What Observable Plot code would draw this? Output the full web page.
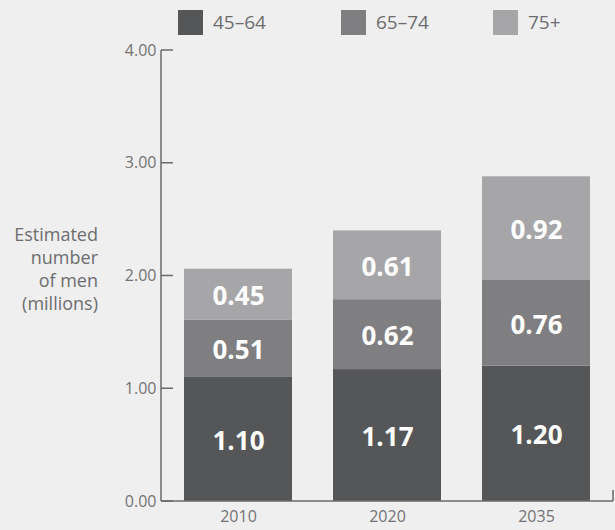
<!DOCTYPE html>
<html>
<head>
<meta charset="utf-8">
<script src="https://cdn.jsdelivr.net/npm/d3@7"></script>
<script src="https://cdn.jsdelivr.net/npm/@observablehq/plot@0.6"></script>
<style>
  html, body { margin: 0; padding: 0; background: #efefef; }
  body { width: 615px; height: 530px; position: relative; overflow: hidden; font-family: "Open Sans", "Noto Sans", sans-serif; }
  #legend { position: relative; height: 40px; }
  .sw { position: absolute; top: 10px; width: 25px; height: 25px; }
  .lt { position: absolute; top: 7px; font-size: 19px; color: #6d6d6f; line-height: 30px; }
  #ylabel { position: absolute; right: 517px; top: 223px; text-align: right; font-size: 18px; line-height: 23px; color: #6d6d6f; }
</style>
</head>
<body>
<div id="legend"></div>
<div id="chart"></div>
<div id="ylabel">Estimated<br>number<br>of men<br>(millions)</div>
<script>
const years = ["2010", "2020", "2035"];
const groups = ["45–64", "65–74", "75+"];
const colors = ["#555658", "#7f7f82", "#a6a6a9"];
const v4564 = [1.10, 1.17, 1.20];
const v6574 = [0.51, 0.62, 0.76];
const v75 = [0.45, 0.61, 0.92];
const yTicks = [0, 1, 2, 3, 4];

const series = [v4564, v6574, v75];
const data = [];
years.forEach((yr, i) => {
  groups.forEach((g, j) => data.push({year: yr, group: g, value: series[j][i]}));
});

// legend
const legend = document.getElementById("legend");
const legendX = [178, 341, 493];
groups.forEach((g, j) => {
  const sw = document.createElement("div");
  sw.className = "sw"; sw.style.left = legendX[j] + "px"; sw.style.background = colors[j];
  legend.appendChild(sw);
  const t = document.createElement("div");
  t.className = "lt"; t.style.left = (legendX[j] + 35) + "px"; t.textContent = g;
  legend.appendChild(t);
});

const axisColor = "#6a6a6c";

function axisMarks(index, scales, values, dimensions) {
  const g = d3.create("svg:g").attr("stroke", axisColor).attr("stroke-width", 1.5).attr("fill", "none");
  const x0 = dimensions.marginLeft;
  const x1 = dimensions.width - dimensions.marginRight;
  const yTop = scales.y(4);
  const yBot = scales.y(0);
  g.append("line").attr("x1", x0).attr("x2", x0).attr("y1", yTop).attr("y2", yBot);
  g.append("line").attr("x1", x0).attr("x2", x1).attr("y1", yBot).attr("y2", yBot);
  g.append("line").attr("x1", x1).attr("x2", x1).attr("y1", yBot - 11).attr("y2", yBot);
  yTicks.forEach(t => {
    g.append("line").attr("x1", x0).attr("x2", x0 + 12).attr("y1", scales.y(t)).attr("y2", scales.y(t));
  });
  return g.node();
}

const chart = Plot.plot({
  width: 615,
  height: 490,
  marginLeft: 161,
  marginRight: 2,
  marginTop: 10,
  marginBottom: 29,
  style: {background: "transparent", fontFamily: "'Open Sans', 'Noto Sans', sans-serif", fontSize: "16px"},
  x: {domain: years, paddingInner: 0.276, paddingOuter: 0.146, label: null},
  y: {domain: [0, 4], label: null},
  color: {domain: groups, range: colors},
  marks: [
    Plot.barY(data, {x: "year", y: "value", fill: "group", order: groups}),
    Plot.text(data, Plot.stackY({x: "year", y: "value", z: "group", order: groups, text: d => d.value.toFixed(2),
      fill: "white", fontSize: 26, fontWeight: "bold", dy: 2})),
    Plot.axisY({ticks: yTicks, tickFormat: d => d.toFixed(2), tickSize: 0, tickPadding: 5, color: "#737375", label: null}),
    Plot.axisX({tickSize: 0, tickPadding: 9, color: "#737375", label: null}),
    axisMarks
  ]
});
document.getElementById("chart").appendChild(chart);
</script>
</body>
</html>
